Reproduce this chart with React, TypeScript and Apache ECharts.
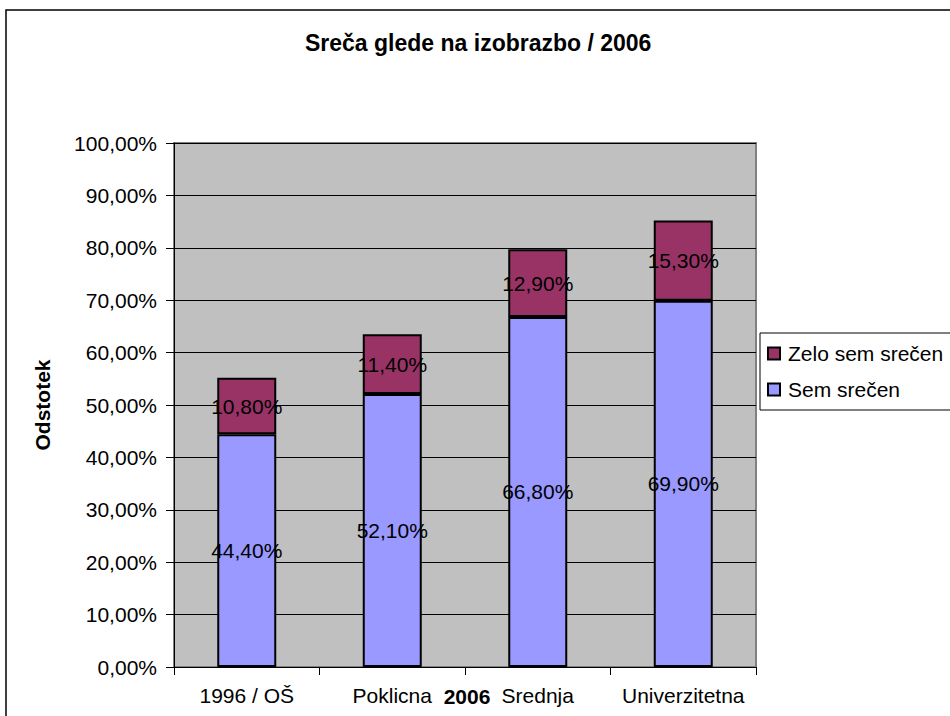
import React, { useEffect, useRef } from "react";
import * as echarts from "echarts";

const categories = ["1996 / OŠ", "Poklicna", "Srednja", "Univerzitetna"];
const semSrecen = [44.4, 52.1, 66.8, 69.9];
const zeloSemSrecen = [10.8, 11.4, 12.9, 15.3];
const seriesNames = ["Sem srečen", "Zelo sem srečen"];
const titleText = "Sreča glede na izobrazbo / 2006";
const xAxisName = "2006";
const yAxisName = "Odstotek";

const FONT = "'Liberation Sans', Arial, sans-serif";
const fmt = (v: number) => v.toFixed(2).replace(".", ",") + "%";

export default function App() {
  const ref = useRef<HTMLDivElement>(null);
  useEffect(() => {
    document.body.style.margin = "0";
    const chart = echarts.init(ref.current!, null, { renderer: "svg" });
    const labelCfg = {
      show: true,
      position: "inside",
      color: "#000",
      fontSize: 21,
      fontFamily: FONT,
      formatter: (p: any) => fmt(p.value),
    };
    chart.setOption({
      animation: false,
      backgroundColor: "#fff",
      textStyle: { fontFamily: FONT },
      title: {
        text: titleText,
        left: 305,
        top: 31,
        padding: 0,
        textStyle: { fontSize: 23, fontWeight: "bold", color: "#000", fontFamily: FONT },
      },
      graphic: [
        {
          type: "rect",
          shape: { x: 6, y: 10, width: 1000, height: 800 },
          style: { fill: "none", stroke: "#000", lineWidth: 1.5 },
          silent: true,
          z: -1,
        },
        {
          type: "text",
          x: 467,
          y: 696,
          style: {
            text: xAxisName,
            fontSize: 21,
            fontWeight: "bold",
            fill: "#000",
            fontFamily: FONT,
            align: "center",
            verticalAlign: "middle",
          },
          z: 10,
        },
      ],
      legend: {
        orient: "vertical",
        left: 760,
        top: 333,
        padding: [10, 8, 10, 7],
        itemGap: 15,
        itemWidth: 12,
        itemHeight: 12,
        icon: "rect",
        borderColor: "#000",
        borderWidth: 1,
        backgroundColor: "#fff",
        data: ["Zelo sem srečen", "Sem srečen"],
        textStyle: { fontSize: 21, color: "#000", fontFamily: FONT, lineHeight: 20, padding: [0, 0, 0, 3] },
      },
      grid: {
        left: 174,
        top: 143,
        right: 194,
        bottom: 49,
        outerBoundsMode: "none",
        containLabel: false,
        show: true,
        backgroundColor: "#C0C0C0",
        borderColor: "#808080",
        borderWidth: 2,
      },
      xAxis: {
        type: "category",
        data: categories,
        axisLine: { lineStyle: { color: "#000", width: 1 } },
        axisTick: { show: true, length: 8, lineStyle: { color: "#000" } },
        axisLabel: { color: "#000", fontSize: 21, margin: 18, fontFamily: FONT, interval: 0 },
      },
      yAxis: {
        type: "value",
        min: 0,
        max: 100,
        interval: 10,
        name: yAxisName,
        nameLocation: "middle",
        nameRotate: 90,
        nameGap: 121,
        nameTextStyle: { fontSize: 21, fontWeight: "bold", color: "#000", fontFamily: FONT },
        axisLine: { show: true, lineStyle: { color: "#000", width: 1 } },
        axisTick: { show: true, length: 8, lineStyle: { color: "#000" } },
        axisLabel: { color: "#000", fontSize: 21, margin: 17, fontFamily: FONT, formatter: (v: number) => fmt(v) },
        splitLine: { show: true, lineStyle: { color: "#000", width: 1 } },
      },
      series: [
        {
          name: seriesNames[0],
          type: "bar",
          stack: "a",
          data: semSrecen,
          barWidth: 59,
          itemStyle: { color: "#9999FF", borderColor: "#000", borderWidth: 2 },
          label: labelCfg,
        },
        {
          name: seriesNames[1],
          type: "bar",
          stack: "a",
          data: zeloSemSrecen,
          barWidth: 59,
          itemStyle: { color: "#993366", borderColor: "#000", borderWidth: 2 },
          label: labelCfg,
        },
      ],
    });
    return () => chart.dispose();
  }, []);
  return <div ref={ref} style={{ width: 950, height: 716 }} />;
}
